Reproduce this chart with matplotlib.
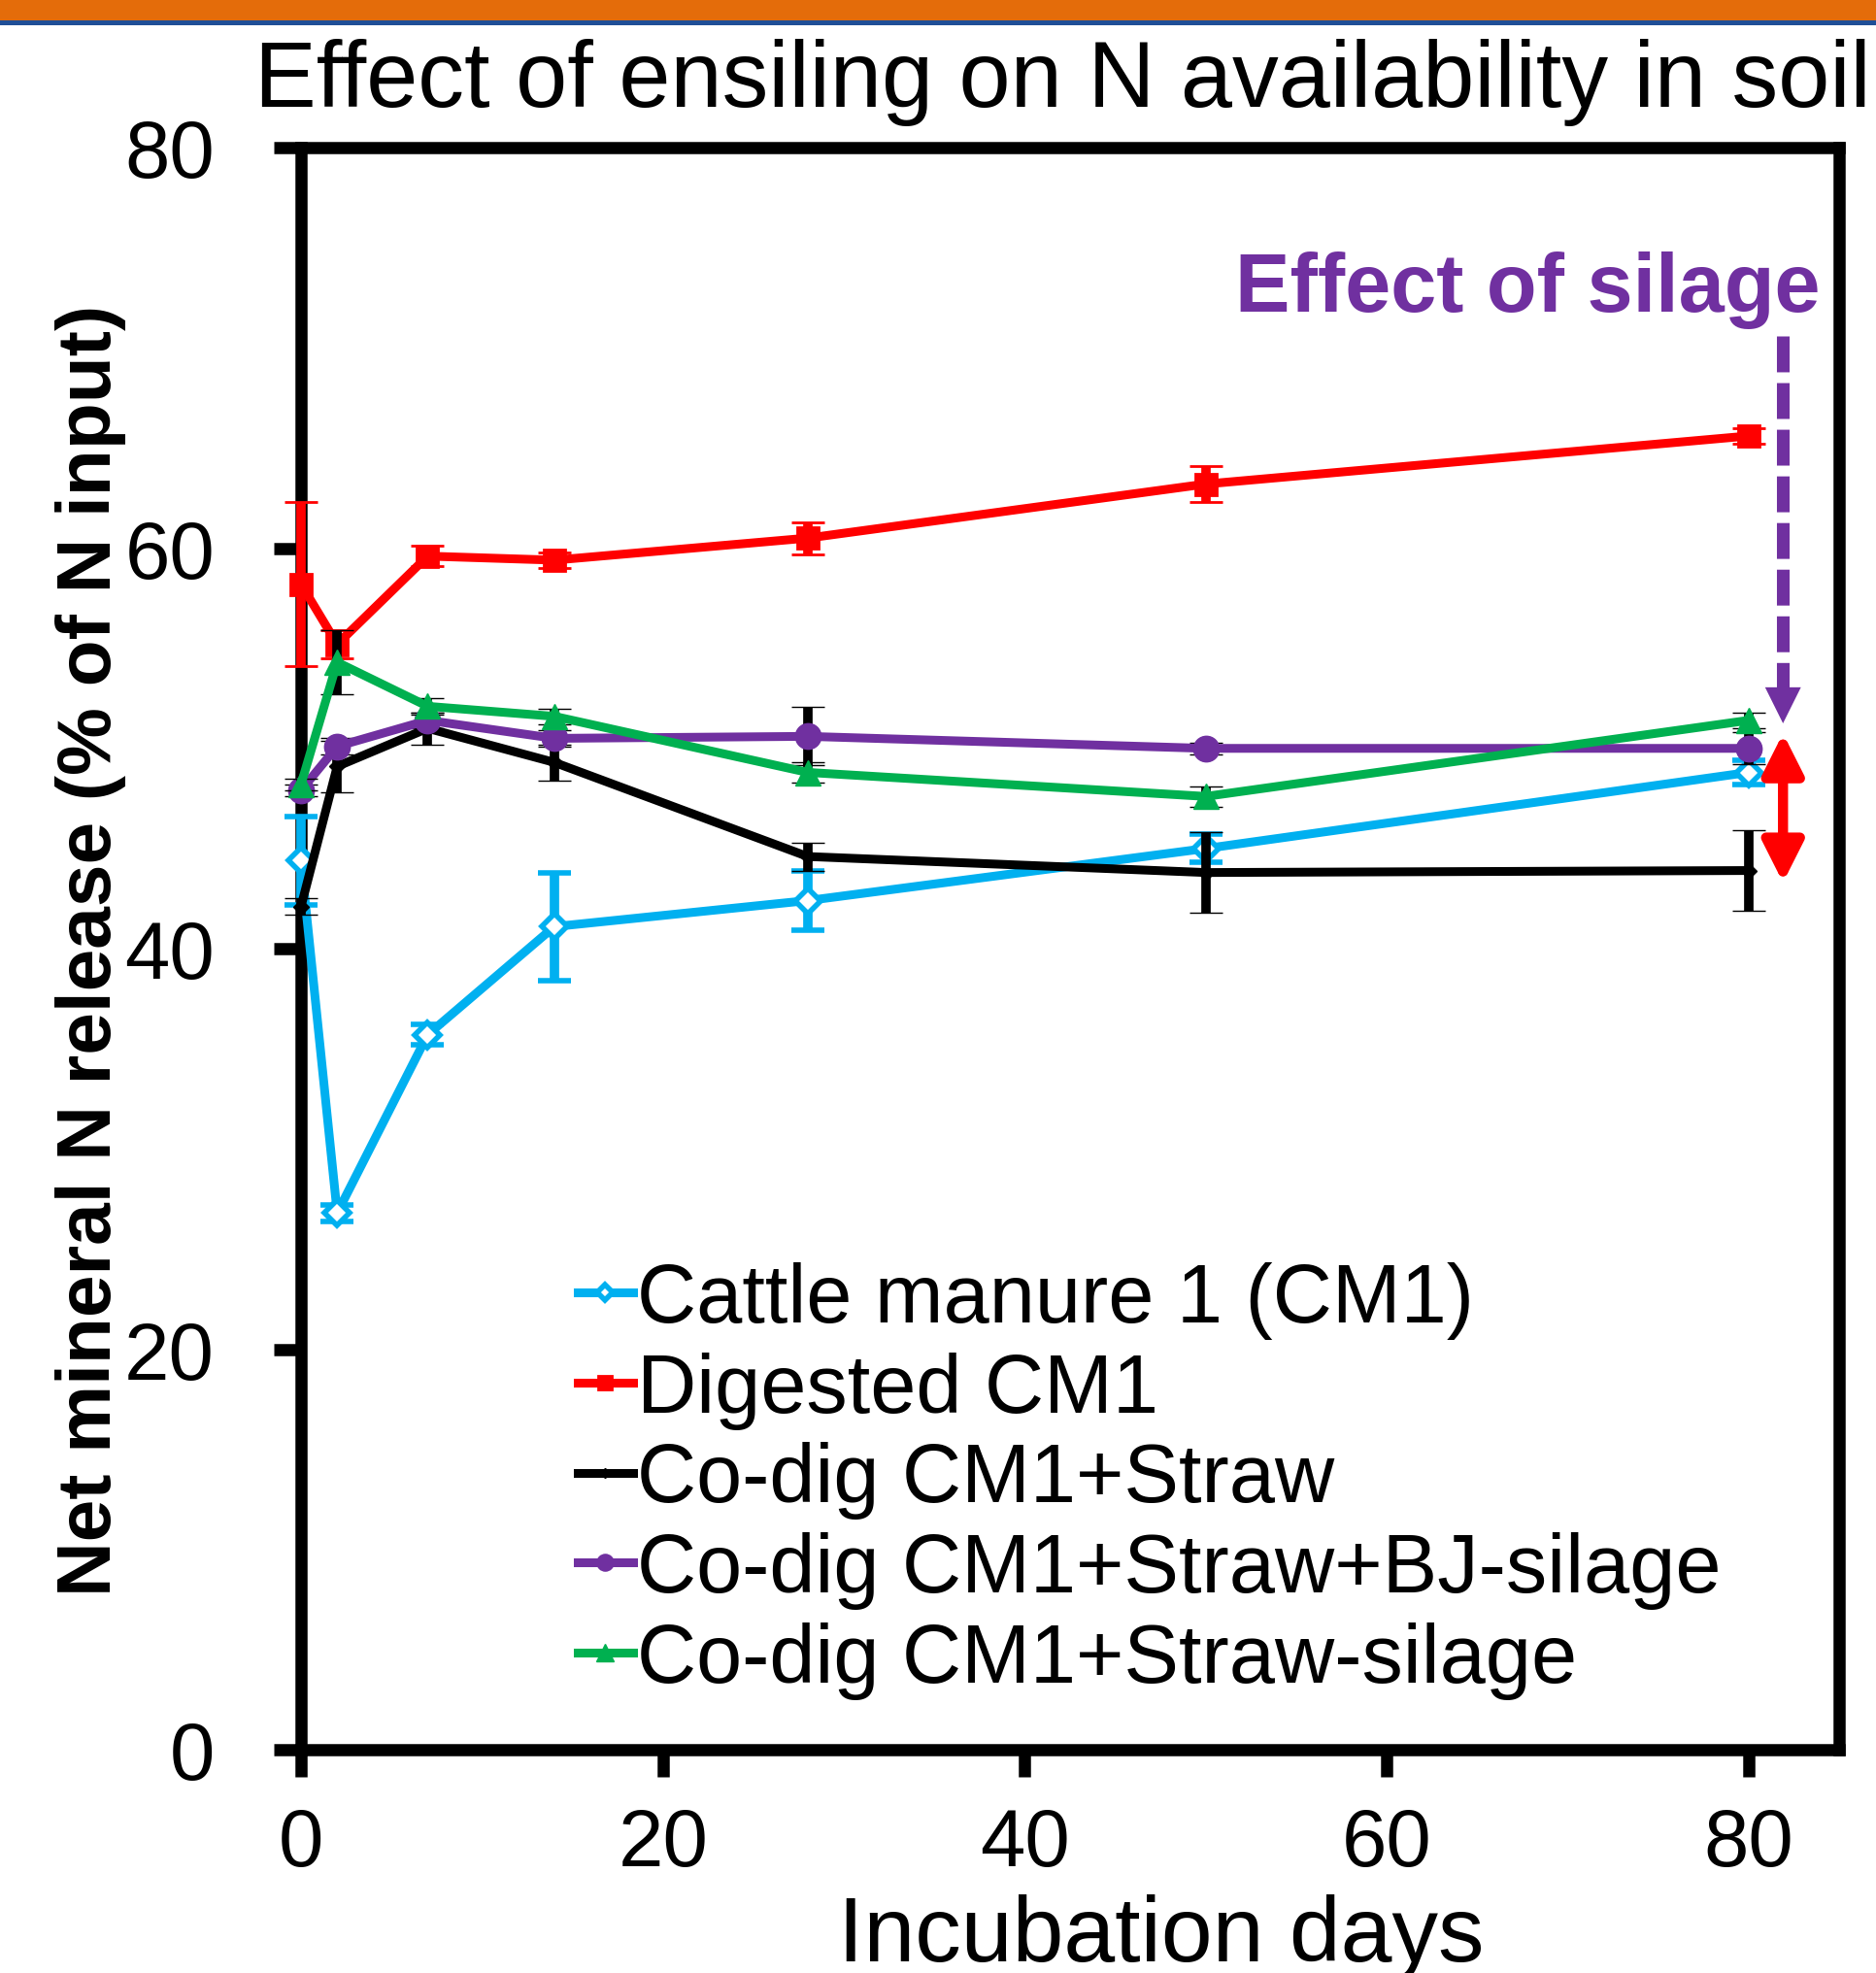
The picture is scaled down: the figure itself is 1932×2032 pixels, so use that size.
import matplotlib
matplotlib.use('Agg')
import matplotlib.pyplot as plt
import matplotlib.patches as mpatches
from matplotlib import font_manager

plt.rcParams['font.family'] = ['Liberation Sans', 'DejaVu Sans']

# ---------------- data ----------------
days = [0, 2, 7, 14, 28, 50, 80]
labels = ["Cattle manure 1 (CM1)", "Digested CM1", "Co-dig CM1+Straw",
          "Co-dig CM1+Straw+BJ-silage", "Co-dig CM1+Straw-silage"]
cm1 = [44.4, 26.8, 35.7, 41.1, 42.4, 45.0, 48.8]
cm1_err = [2.2, 0.4, 0.5, 2.7, 1.5, 0.7, 0.6]
digested = [58.2, 55.2, 59.6, 59.4, 60.5, 63.2, 65.6]
digested_err = [4.1, 0.7, 0.5, 0.4, 0.8, 0.9, 0.4]
straw = [42.1, 49.1, 51.0, 49.3, 44.6, 43.8, 43.9]
straw_err = [0.4, 1.3, 0.8, 0.9, 0.7, 2.0, 2.0]
bj_silage = [47.9, 50.1, 51.4, 50.5, 50.6, 50.0, 50.0]
bj_silage_err = [0.3, 0.4, 0.4, 0.4, 1.45, 0.3, 0.8]
straw_silage = [48.2, 54.3, 52.1, 51.6, 48.8, 47.6, 51.4]
straw_silage_err = [0.3, 1.6, 0.4, 0.4, 0.5, 0.5, 0.4]

title = "Effect of ensiling on N availability in soil"
xlabel = "Incubation days"
ylabel = "Net mineral N release (% of N input)"
annot = "Effect of silage"
xticks = [0, 20, 40, 60, 80]
yticks = [0, 20, 40, 60, 80]

# ---------------- figure ----------------
W, H = 1933, 2033
DPI = 100
fig = plt.figure(figsize=(W / DPI, H / DPI), dpi=DPI)

def fx(px):
    return px / W

def fy(py):
    return 1 - py / H

# top decorative bands
fig.add_artist(mpatches.Rectangle((0, fy(22)), 1, 22 / H, transform=fig.transFigure,
                                  facecolor='#E46C0A', edgecolor='none'))
fig.add_artist(mpatches.Rectangle((0, fy(27)), 1, 5 / H, transform=fig.transFigure,
                                  facecolor='#1F4E96', edgecolor='none'))

ax = fig.add_axes([fx(310), fy(1803), (1894 - 310) / W, (1803 - 153) / H])
ax.set_xlim(0, 85)
ax.set_ylim(0, 80)

for sp in ax.spines.values():
    sp.set_linewidth(9)
    sp.set_color('black')
    sp.set_capstyle('projecting')

ax.set_xticks(xticks)
ax.set_yticks(yticks)
ax.tick_params(axis='both', direction='out', length=20, width=9, labelsize=60, color='black')
ax.tick_params(axis='y', pad=44)
ax.tick_params(axis='x', pad=22)
ax.tick_params(top=False, right=False)

cyan = '#00B0F0'
red = '#FF0000'
purple = '#7030A0'
green = '#00B050'

specs = [
    (cm1, cm1_err, cyan, cyan, dict(marker='D', ms=13, mfc='white', mec=cyan, mew=4)),
    (digested, digested_err, red, red, dict(marker='s', ms=16, mfc=red, mec=red, mew=2)),
    (straw, straw_err, 'black', 'black', dict(marker='D', ms=8.5, mfc='black', mec='black', mew=1)),
    (bj_silage, bj_silage_err, purple, 'black', dict(marker='o', ms=19, mfc=purple, mec=purple, mew=1)),
    (straw_silage, straw_silage_err, green, 'black', dict(marker='^', ms=19, mfc=green, mec=green, mew=1)),
]

handles = []
for i, (vals, errs, col, ecol, mk) in enumerate(specs):
    cont = ax.errorbar(days, vals, yerr=errs, color=col, lw=6.5, ecolor=ecol,
                       elinewidth=7, capsize=12, capthick=7, zorder=4 + i,
                       label=labels[i], **mk)
    line = cont[0]
    line.set_clip_on(False)
    line.set_solid_joinstyle('round')
    for c in cont[1]:
        c.set_clip_on(False)
    for c in cont[2]:
        c.set_clip_on(False)
    handles.append(line)

leg = ax.legend(handles=handles, labels=labels, loc='upper left',
                bbox_to_anchor=(fx(595), fy(1300)), bbox_transform=fig.transFigure,
                frameon=False, fontsize=61, handlelength=0.67, handletextpad=0.05,
                labelspacing=0.15, borderpad=0, borderaxespad=0, markerscale=0.65)
leg.set_zorder(20)

# annotation: purple dashed arrow
arrow_x = 81.9
ax.plot([arrow_x, arrow_x], [70.6, 53.0], color=purple, lw=9.4,
        linestyle=(0, (2.83, 0.85)), solid_capstyle='butt', dash_capstyle='butt',
        clip_on=False, zorder=10)
ax.add_patch(mpatches.Polygon([[arrow_x - 0.99, 53.05], [arrow_x + 0.99, 53.05], [arrow_x, 51.25]],
                              closed=True, facecolor=purple, edgecolor='none', zorder=10, clip_on=False))

# red double arrow
ax.annotate('', xy=(arrow_x, 50.75), xytext=(arrow_x, 43.3),
            arrowprops=dict(arrowstyle='<|-|>,head_length=25,head_width=12.6',
                            color=red, lw=7.5, shrinkA=0, shrinkB=0,
                            mutation_scale=1), zorder=10, annotation_clip=False)

# texts
fig.text(fx(262), fy(110), title, fontsize=68.8, ha='left', va='baseline')

available = {f.name for f in font_manager.fontManager.ttflist}
if 'Liberation Sans Narrow' in available:
    yl_family, yl_size = ['Liberation Sans Narrow', 'Liberation Sans'], 68
else:
    yl_family, yl_size = ['Liberation Sans', 'DejaVu Sans'], 56.5
fig.text(fx(114), fy(979), ylabel, fontsize=yl_size, fontweight='bold', rotation=90,
         family=yl_family, rotation_mode='anchor', ha='center', va='baseline')
fig.text(fx(1196), fy(2020), xlabel, fontsize=68.4, ha='center', va='baseline')
fig.text(fx(1272), fy(321), annot, fontsize=61, fontweight='bold', color=purple,
         ha='left', va='baseline')

fig.savefig('out.png', dpi=DPI)
